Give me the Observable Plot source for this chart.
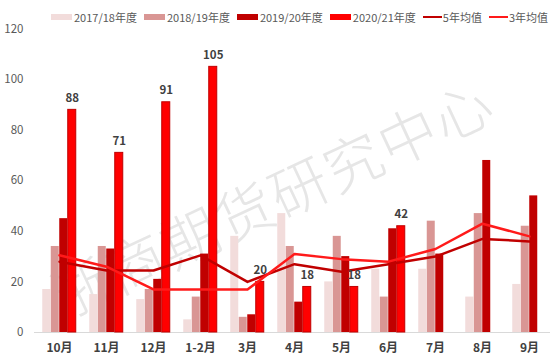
<!DOCTYPE html>
<html><head><meta charset="utf-8">
<script src="https://cdn.jsdelivr.net/npm/d3@7"></script>
<script src="https://cdn.jsdelivr.net/npm/@observablehq/plot@0.6"></script>
<style>
body{margin:0;background:#fff;font-family:"Noto Sans CJK SC","Noto Sans",sans-serif;}
#wrap{position:relative;width:550px;height:362px;overflow:hidden;}
#legend{position:absolute;left:51px;top:9px;display:flex;align-items:center;font-size:11px;color:#595959;white-space:nowrap;}
#legend .it{display:flex;align-items:center;margin-right:7px;}
#legend .sw{width:21px;height:6px;margin-right:2px;}
#legend .ln{width:19px;height:2.5px;margin-right:1px;}
</style></head><body>
<div id="wrap"><div id="chart"></div><div id="legend"></div></div>
<script>
const months = ["10月","11月","12月","1-2月","3月","4月","5月","6月","7月","8月","9月"];
const s1718 = [17,15,13,5,38,47,20,25,25,14,19];
const s1819 = [34,34,17,14,6,34,38,14,44,47,42];
const s1920 = [45,33,21,31,7,12,30,41,31,68,54];
const s2021 = [88,71,91,105,20,18,18,42,null,null,null];
const avg5 = [28,24.5,24.5,30.5,20,27,24,27,30,37,36];
const avg3 = [30.5,26,17,17,17,31,29,28,33,43,38];
const seriesNames = ["2017/18年度","2018/19年度","2019/20年度","2020/21年度","5年均值","3年均值"];
const colors = ["#F2DCDB","#D99694","#C00000","#FF0000","#C00000","#FF1A1A"];
const yTicks = [0,20,40,60,80,100,120];

const toRows = arr => months.map((m,i)=>({m, v: arr[i]})).filter(d => d.v != null);
const bw = 8.5;
const offs = [-1.5*bw,-0.5*bw,0.5*bw,1.5*bw];

const chart = Plot.plot({
  width: 550, height: 362,
  marginLeft: 34, marginRight: 0, marginTop: 28, marginBottom: 30,
  style: {fontFamily: '"Noto Sans CJK SC","Noto Sans",sans-serif', fontSize: "11px", background: "transparent"},
  x: {domain: months, range: [34.4, 553.6], paddingInner: 0.82, paddingOuter: 0.41, label: null},
  y: {domain: [0,120], range: [332, 28.4], label: null},
  marks: [
    Plot.axisY({ticks: yTicks, tickSize: 0, tickPadding: 11, fill: "#595959", fontSize: 11.5, label: null}),
    Plot.axisX({tickSize: 0, tickPadding: 11, fill: "#404040", fontSize: 12, fontWeight: "bold", label: null}),
    Plot.ruleY([0], {stroke: "#D9D9D9", strokeWidth: 1}),
    Plot.barY(toRows(s1718), {x: "m", y: "v", fill: colors[0], dx: offs[0]}),
    Plot.barY(toRows(s1819), {x: "m", y: "v", fill: colors[1], dx: offs[1]}),
    Plot.barY(toRows(s1920), {x: "m", y: "v", fill: colors[2], dx: offs[2]}),
    Plot.barY(toRows(s2021), {x: "m", y: "v", fill: colors[3], stroke: "#C00000", strokeWidth: 1, dx: offs[3]}),
    Plot.line(toRows(avg5), {x: "m", y: "v", stroke: colors[4], strokeWidth: 2.5}),
    Plot.line(toRows(avg3), {x: "m", y: "v", stroke: colors[5], strokeWidth: 2.5}),
    Plot.text(toRows(s2021), {x: "m", y: "v", text: d => String(d.v), dx: offs[3], dy: -12, fill: "#404040", fontWeight: "bold", fontSize: 11.5})
  ]
});
document.getElementById("chart").appendChild(chart);

// watermark behind marks
const svg = d3.select(chart);
svg.insert("text", ":first-child")
  .attr("x", 275).attr("y", 205)
  .attr("text-anchor", "middle")
  .attr("dominant-baseline", "middle")
  .attr("transform", "rotate(-25 275 205)")
  .attr("font-size", 58)
  .attr("font-weight", 300)
  .attr("letter-spacing", 2)
  .attr("fill", "#E6E6E6")
  .text("浙商期货研究中心");

// legend
const lg = d3.select("#legend");
seriesNames.forEach((n,i) => {
  const it = lg.append("div").attr("class","it");
  it.append("div").attr("class", i < 4 ? "sw" : "ln").style("background", colors[i]);
  it.append("span").text(n);
});
</script>
</body></html>
